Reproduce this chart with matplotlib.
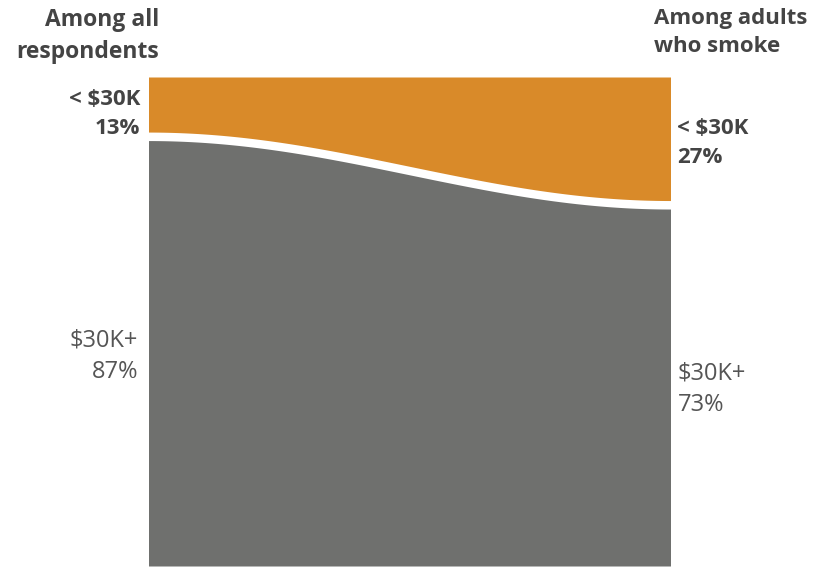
import numpy as np
import matplotlib.pyplot as plt

# Share of each income group, left = all respondents, right = adults who smoke
groups = ["< $30K", "$30K+"]
all_respondents = [13, 87]
adults_who_smoke = [27, 73]
titles = ["Among all\nrespondents", "Among adults\nwho smoke"]

ORANGE = "#D98A29"
GRAY = "#6F706E"
TEXT = "#444444"

plt.rcParams['font.family'] = ['Open Sans', 'DejaVu Sans']

fig = plt.figure(figsize=(8.2, 5.69), dpi=100)
W, H = 820, 569
x0, x1, ytop, ybot = 148.5, 670.5, 77, 566
ax = fig.add_axes([x0 / W, (H - ybot) / H, (x1 - x0) / W, (ybot - ytop) / H])
ax.set_xlim(0, 1)
ax.set_ylim(100, 0)
ax.axis("off")

# smooth S-shaped link between the two boundaries
t = np.linspace(0, 1, 300)
ease = (1 - np.cos(np.pi * t)) / 2
boundary = all_respondents[0] + (adults_who_smoke[0] - all_respondents[0]) * ease
gap = 100 * 8.5 / (ybot - ytop)

ax.fill_between(t, 0, boundary - gap, color=ORANGE, lw=0)
ax.fill_between(t, boundary, 100, color=GRAY, lw=0)

# titles
fig.text(159 / W, 1 - 8 / H, titles[0], ha="right", va="top", fontsize=16.5,
         fontweight="bold", color=TEXT, linespacing=1.42)
fig.text(654 / W, 1 - 8 / H, titles[1], ha="left", va="top", fontsize=16,
         fontweight="bold", color=TEXT, linespacing=1.45)

# segment labels
fig.text(140 / W, 1 - 114 / H, f"{groups[0]}\n{all_respondents[0]}%", ha="right",
         va="center", fontsize=16, fontweight="bold", color=TEXT, linespacing=1.55)
fig.text(677 / W, 1 - 143 / H, f"{groups[0]}\n{adults_who_smoke[0]}%", ha="left",
         va="center", fontsize=16, fontweight="bold", color=TEXT, linespacing=1.55)
fig.text(138 / W, 1 - 356 / H, f"{groups[1]}\n{all_respondents[1]}%", ha="right",
         va="center", fontsize=17, color="#555555", linespacing=1.4)
fig.text(678 / W, 1 - 389 / H, f"{groups[1]}\n{adults_who_smoke[1]}%", ha="left",
         va="center", fontsize=17, color="#555555", linespacing=1.4)

fig.savefig("out.png", dpi=100)
